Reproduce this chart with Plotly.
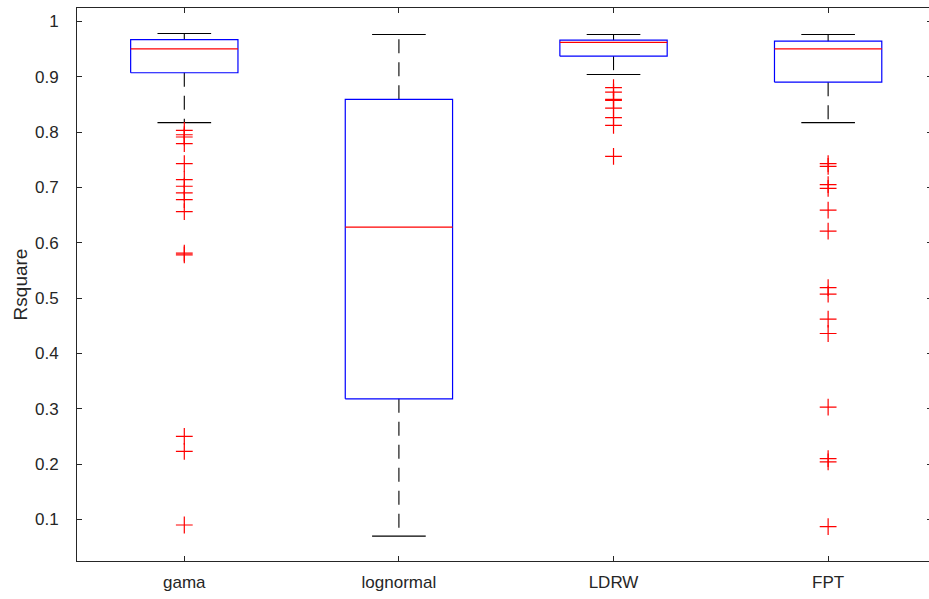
import plotly.graph_objects as go

categories = ["gama", "lognormal", "LDRW", "FPT"]
q1 = [0.907, 0.318, 0.937, 0.890]
median = [0.950, 0.628, 0.962, 0.950]
q3 = [0.967, 0.859, 0.966, 0.964]
lower_whisker = [0.817, 0.070, 0.904, 0.817]
upper_whisker = [0.978, 0.976, 0.976, 0.976]

outliers_gama = [0.803, 0.795, 0.791, 0.779, 0.743, 0.714, 0.702, 0.690, 0.678,
                 0.656, 0.581, 0.578, 0.250, 0.223, 0.090]
outliers_lognormal = []
outliers_ldrw = [0.880, 0.872, 0.859, 0.857, 0.843, 0.826, 0.812, 0.756]
outliers_fpt = [0.743, 0.738, 0.705, 0.698, 0.659, 0.621, 0.519, 0.507, 0.462,
                0.436, 0.303, 0.210, 0.204, 0.087]
outliers = [outliers_gama, outliers_lognormal, outliers_ldrw, outliers_fpt]

tick_vals = [0.1, 0.2, 0.3, 0.4, 0.5, 0.6, 0.7, 0.8, 0.9, 1.0]
tick_text = ["0.1", "0.2", "0.3", "0.4", "0.5", "0.6", "0.7", "0.8", "0.9", "1"]

BOX_HALF = 0.25
CAP_HALF = 0.125
AX = "#262626"

fig = go.Figure()
for i, name in enumerate(categories):
    x = i + 1
    # whiskers (dashed)
    fig.add_trace(go.Scatter(x=[x, x], y=[q3[i], upper_whisker[i]], mode="lines",
                             line=dict(color="black", width=1.1, dash="14px,9px"),
                             showlegend=False, hoverinfo="skip"))
    fig.add_trace(go.Scatter(x=[x, x], y=[q1[i], lower_whisker[i]], mode="lines",
                             line=dict(color="black", width=1.1, dash="14px,9px"),
                             showlegend=False, hoverinfo="skip"))
    # caps
    for w in (upper_whisker[i], lower_whisker[i]):
        fig.add_trace(go.Scatter(x=[x - CAP_HALF, x + CAP_HALF], y=[w, w], mode="lines",
                                 line=dict(color="black", width=1.1),
                                 showlegend=False, hoverinfo="skip"))
    # box
    fig.add_trace(go.Scatter(x=[x - BOX_HALF, x + BOX_HALF, x + BOX_HALF, x - BOX_HALF, x - BOX_HALF],
                             y=[q1[i], q1[i], q3[i], q3[i], q1[i]], mode="lines",
                             line=dict(color="#0000ff", width=1.2),
                             showlegend=False, hoverinfo="skip"))
    # median
    fig.add_trace(go.Scatter(x=[x - BOX_HALF, x + BOX_HALF], y=[median[i], median[i]], mode="lines",
                             line=dict(color="#ff0000", width=1.2),
                             showlegend=False, hoverinfo="skip"))
    # outliers
    if outliers[i]:
        fig.add_trace(go.Scatter(x=[x] * len(outliers[i]), y=outliers[i], mode="markers",
                                 marker=dict(symbol="cross-thin", size=12,
                                             line=dict(color="#ff0000", width=1.2)),
                                 showlegend=False, hoverinfo="skip"))

# invisible trace for right-side y ticks
fig.add_trace(go.Scatter(x=[1], y=[0.5], yaxis="y2", mode="markers",
                         marker=dict(opacity=0), showlegend=False, hoverinfo="skip"))

FAMILY = "Liberation Sans, Arial, sans-serif"
font = dict(family=FAMILY, size=17, color=AX)

fig.update_layout(
    width=929, height=599,
    margin=dict(l=77, r=0, t=8, b=38),
    paper_bgcolor="white", plot_bgcolor="white",
    font=font,
    xaxis=dict(range=[0.5, 4.47], tickvals=[1, 2, 3, 4], ticktext=categories,
               showgrid=False, zeroline=False, showline=True, linecolor=AX, linewidth=1,
               mirror="ticks", ticks="inside", ticklen=5, tickcolor=AX,
               tickfont=font, ticklabelstandoff=6),
    yaxis=dict(range=[0.025, 1.024], tickvals=tick_vals, ticktext=tick_text,
               showgrid=False, zeroline=False, showline=True, linecolor=AX, linewidth=1,
               ticks="inside", ticklen=5, tickcolor=AX, tickfont=font,
               ticklabelstandoff=14,
               title=dict(text="Rsquare", font=dict(family=FAMILY, size=19, color=AX),
                          standoff=2)),
    yaxis2=dict(range=[0.025, 1.024], tickvals=tick_vals, overlaying="y", side="right",
                showticklabels=False, showgrid=False, zeroline=False, showline=False,
                ticks="inside", ticklen=2, tickcolor=AX),
)

fig.write_html("out.html")
